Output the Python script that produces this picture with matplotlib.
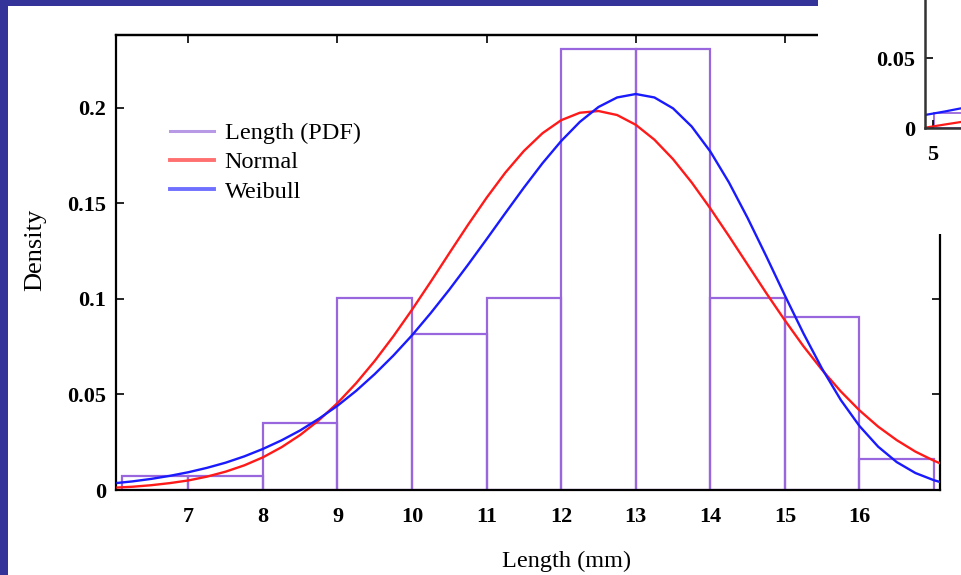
import numpy as np
import matplotlib.pyplot as plt
from matplotlib import patches
from matplotlib.lines import Line2D

# histogram of lengths (density)
bin_edges = [6.11, 7, 8, 9, 10, 11, 12, 13, 14, 15, 16, 17]
bin_heights = [0.0073, 0.0073, 0.0349, 0.1007, 0.0815, 0.1007, 0.2307, 0.2307, 0.1007, 0.0907, 0.0164]

# fitted curves
x_fit = [6.05, 6.25, 6.5, 6.75, 7.0, 7.25, 7.5, 7.75, 8.0, 8.25, 8.5, 8.75, 9.0, 9.25, 9.5, 9.75,
         10.0, 10.25, 10.5, 10.75, 11.0, 11.25, 11.5, 11.75, 12.0, 12.25, 12.5, 12.75,
         13.0, 13.25, 13.5, 13.75, 14.0, 14.25, 14.5, 14.75, 15.0, 15.25, 15.5, 15.75,
         16.0, 16.25, 16.5, 16.75, 17.0, 17.08]
normal_pdf = [0.0013, 0.0017, 0.0025, 0.0036, 0.0050, 0.0070, 0.0096, 0.0129, 0.0171, 0.0224, 0.0288, 0.0365,
              0.0455, 0.0559, 0.0676, 0.0805, 0.0944, 0.1090, 0.1240, 0.1388, 0.1530, 0.1661, 0.1775, 0.1868,
              0.1936, 0.1975, 0.1984, 0.1963, 0.1912, 0.1834, 0.1732, 0.1610, 0.1474, 0.1329, 0.1180, 0.1031,
              0.0888, 0.0752, 0.0628, 0.0516, 0.0417, 0.0332, 0.0261, 0.0201, 0.0153, 0.0140]
weibull_pdf = [0.0037, 0.0045, 0.0058, 0.0074, 0.0093, 0.0116, 0.0143, 0.0176, 0.0215, 0.0260, 0.0312, 0.0373,
               0.0441, 0.0519, 0.0607, 0.0704, 0.0810, 0.0926, 0.1049, 0.1179, 0.1313, 0.1449, 0.1583, 0.1711,
               0.1827, 0.1927, 0.2005, 0.2055, 0.2073, 0.2055, 0.1998, 0.1903, 0.1772, 0.1610, 0.1424, 0.1224,
               0.1018, 0.0819, 0.0634, 0.0471, 0.0335, 0.0227, 0.0146, 0.0089, 0.0051, 0.0042]

x_ticks = [7, 8, 9, 10, 11, 12, 13, 14, 15, 16]
y_ticks = [0, 0.05, 0.1, 0.15, 0.2]
y_ticklabels = ["0", "0.05", "0.1", "0.15", "0.2"]
legend_labels = ["Length (PDF)", "Normal", "Weibull"]

# corner of the other chart that overlaps the slide
inset_x = [4.87, 5.2, 5.5]
inset_weibull = [0.0093, 0.0118, 0.0143]
inset_normal = [0.0002, 0.0025, 0.0045]
inset_bin_edges = [5.02, 6.0]
inset_bin_heights = [0.011]

W, H = 962, 575
slide_blue = "#333399"
hist_color = "#9966dd"
red = "#ff1a1a"
blue = "#1a1aff"

plt.rcParams["font.family"] = ["Liberation Serif", "DejaVu Serif"]

fig = plt.figure(figsize=(W / 100, H / 100), dpi=100, facecolor="white")

# slide frame
fig.add_artist(patches.Rectangle((0, 0), 8 / W, 1, transform=fig.transFigure,
                                 facecolor=slide_blue, edgecolor="none", zorder=0))
fig.add_artist(patches.Rectangle((0, 1 - 6 / H), 818 / W, 6 / H, transform=fig.transFigure,
                                 facecolor=slide_blue, edgecolor="none", zorder=0))

ax = fig.add_axes([116 / W, 85 / H, 824 / W, 455 / H])
ax.bar(bin_edges[:-1], bin_heights, width=np.diff(bin_edges), align="edge", fill=False,
       edgecolor=hist_color, linewidth=1.6, zorder=2)
ax.plot(x_fit, normal_pdf, color=red, linewidth=1.7, zorder=3)
ax.plot(x_fit, weibull_pdf, color=blue, linewidth=1.7, zorder=3)

ax.set_xlim(6.03, 17.08)
ax.set_ylim(0, 0.2382)
ax.set_xticks(x_ticks)
ax.set_xticklabels([str(t) for t in x_ticks])
ax.set_yticks(y_ticks)
ax.set_yticklabels(y_ticklabels)
ax.tick_params(direction="in", length=6, width=1.2, right=True, top=False,
               labelsize=16, colors="black")
ax.tick_params(axis="x", pad=12)
ax.tick_params(axis="y", pad=7)
for lab in ax.get_xticklabels() + ax.get_yticklabels():
    lab.set_fontweight("bold")
for sp in ax.spines.values():
    sp.set_linewidth(1.6)
    sp.set_color("black")

sec = ax.secondary_xaxis("top")
sec.set_xticks([7, 9, 11, 13, 15])
sec.set_xticklabels([])
sec.tick_params(direction="in", length=6, width=1.2)
sec.spines["top"].set_linewidth(1.6)

handles = [Line2D([], [], color="#b899e6", linewidth=2.2),
           Line2D([], [], color="#ff7070", linewidth=2.8),
           Line2D([], [], color="#7070ff", linewidth=2.8)]
ax.legend(handles, legend_labels, loc="upper left", bbox_to_anchor=(170 / W, 1 - 122 / H),
          bbox_transform=fig.transFigure, frameon=False, fontsize=17.5, borderpad=0,
          borderaxespad=0, handlelength=1.8, handletextpad=0.45, labelspacing=0.3)

fig.text(35 / W, 1 - 250 / H, "Density", rotation=90, ha="center", va="center", fontsize=19)
fig.text(567 / W, 1 - 561 / H, "Length (mm)", ha="center", va="center", fontsize=17.5)

# white overlay with the other chart in the top right corner
fig.add_artist(patches.Rectangle((818 / W, 1 - 234 / H), 144 / W, 234 / H, transform=fig.transFigure,
                                 facecolor="white", edgecolor="none", zorder=5))
ax2 = fig.add_axes([925 / W, 1 - 128 / H, 300 / W, 140 / H], zorder=6)
ax2.set_facecolor("none")
ax2.bar(inset_bin_edges[:-1], inset_bin_heights, width=np.diff(inset_bin_edges), align="edge",
        fill=False, edgecolor=hist_color, linewidth=1.3)
ax2.plot(inset_x, inset_normal, color=red, linewidth=1.6)
ax2.plot(inset_x, inset_weibull, color=blue, linewidth=1.6)
ax2.set_xlim(4.87, 9.87)
ax2.set_ylim(0, 0.1)
ax2.set_xticks([5])
ax2.set_xticklabels(["5"])
ax2.set_yticks([0, 0.05])
ax2.set_yticklabels(["0", "0.05"])
ax2.tick_params(direction="in", length=6, width=1.2, labelsize=16, colors="black")
ax2.tick_params(axis="x", pad=12)
ax2.tick_params(axis="y", pad=7)
for lab in ax2.get_xticklabels() + ax2.get_yticklabels():
    lab.set_fontweight("bold")
ax2.spines["top"].set_visible(False)
ax2.spines["right"].set_visible(False)
for s in ["left", "bottom"]:
    ax2.spines[s].set_linewidth(1.8)
    ax2.spines[s].set_color("#333333")

fig.savefig("out.png", dpi=100, facecolor="white")
